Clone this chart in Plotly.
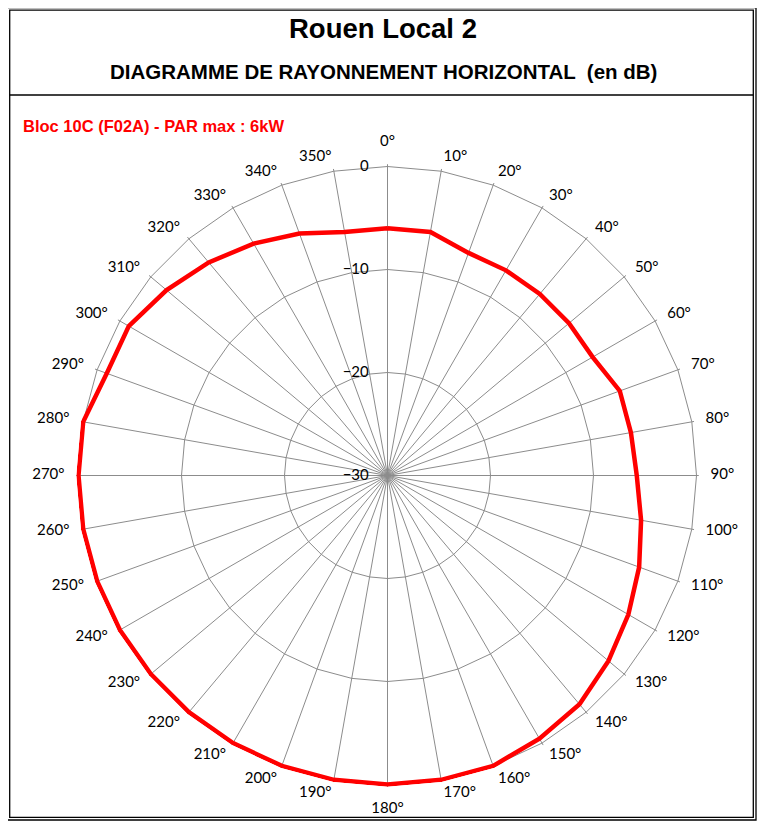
import plotly.graph_objects as go

# Horizontal radiation pattern, attenuation in dB at each azimuth
azimuths = list(range(0, 360, 10))
angles = [f"{a}°" for a in azimuths]
attenuation_db = [
    -6, -6, -7, -7, -7, -7, -7, -6, -6, -5.8,      # 0-90
    -5, -4, -3, -2, -1, -0.5, 0, 0, 0,            # 100-180
    0, 0, 0, 0, 0, 0, 0, 0, 0,                    # 190-270
    0, -1, -1, -2, -3, -4, -5, -6,                # 280-350
]
radial_ticks = [-30, -20, -10, 0]

title_text = "Rouen Local 2"
subtitle_text = "DIAGRAMME DE RAYONNEMENT HORIZONTAL &nbsp;(en dB)"
legend_text = "Bloc 10C (F02A) - PAR max : 6kW"

# the page body adds an 8px margin, so the figure is a bit smaller than the window
OFF = 8
W, H = 765 - OFF, 828 - OFF

def px(x):
    return (x - OFF) / W

def py(y):
    return 1 - (y - OFF) / H

R0 = 309  # pixel radius of the 0 dB ring
cx, cy = 387.5, 475.5
r_min = -30
r_max = 0.22      # a hair past 0 dB so the thick line is not clipped on the rim
r_lab_max = 3.5   # invisible outer subplot that carries the azimuth labels

def domain(rmax):
    R = R0 * (rmax - r_min) / (0 - r_min)
    return dict(x=[px(cx - R), px(cx + R)], y=[py(cy + R), py(cy - R)])

def db_at(pixels):
    return r_min + (0 - r_min) * pixels / R0

# azimuth labels: side anchored, vertically centred, like the spreadsheet
label_pos, label_r = [], []
for a in azimuths:
    if a == 0:
        label_pos.append("top center")
        label_r.append(db_at(326))
    elif a == 180:
        label_pos.append("bottom center")
        label_r.append(db_at(326))
    else:
        label_pos.append("middle right" if a < 180 else "middle left")
        label_r.append(db_at(323))

fig = go.Figure()
fig.add_trace(go.Scatterpolar(
    r=attenuation_db + attenuation_db[:1],
    theta=angles + angles[:1],
    mode="lines",
    line=dict(color="#ff0000", width=4.5),
    hoverinfo="skip",
))
fig.add_trace(go.Scatterpolar(
    r=label_r,
    theta=angles,
    mode="text",
    text=angles,
    textposition=label_pos,
    textfont=dict(family="Lato, Calibri, sans-serif", size=15, color="#000000"),
    hoverinfo="skip",
    subplot="polar2",
))

grid = "#8c8c8c"
tick_font = dict(family="Lato, Calibri, sans-serif", size=15, color="#000000")

fig.update_layout(
    width=W, height=H,
    margin=dict(l=0, r=0, t=0, b=0),
    paper_bgcolor="white",
    showlegend=False,
    polar=dict(
        domain=domain(r_max),
        bgcolor="white",
        gridshape="linear",
        angularaxis=dict(
            type="category",
            categoryarray=angles,
            direction="clockwise",
            rotation=90,
            showline=False,
            gridcolor=grid,
            gridwidth=1,
            showticklabels=False,
            ticks="",
        ),
        radialaxis=dict(
            range=[r_min, r_max],
            tickvals=radial_ticks,
            angle=90,
            side="counterclockwise",
            showline=False,
            gridcolor=grid,
            gridwidth=1,
            ticks="outside",
            ticklen=13,
            tickcolor="rgba(0,0,0,0)",
            tickangle=90,
            tickfont=tick_font,
        ),
    ),
    polar2=dict(
        domain=domain(r_lab_max),
        bgcolor="rgba(0,0,0,0)",
        angularaxis=dict(
            type="category",
            categoryarray=angles,
            direction="clockwise",
            rotation=90,
            showline=False,
            showgrid=False,
            showticklabels=False,
            ticks="",
        ),
        radialaxis=dict(
            range=[r_min, r_lab_max],
            visible=False,
            showgrid=False,
        ),
    ),
)

# double frame and title separator
shapes = []
for x0, y0, x1, y1 in [(7, 7.5, 756, 820), (9.7, 10.2, 753.3, 817.3)]:
    shapes.append(dict(type="rect", xref="paper", yref="paper",
                       x0=px(x0), y0=py(y0), x1=px(x1), y1=py(y1),
                       line=dict(color="black", width=1.3)))
shapes.append(dict(type="line", xref="paper", yref="paper",
                   x0=px(9.7), y0=py(95), x1=px(753.3), y1=py(95),
                   line=dict(color="black", width=1.3)))
fig.update_layout(shapes=shapes)

fig.add_annotation(x=px(383), y=py(28), xref="paper", yref="paper",
                   xanchor="center", yanchor="middle",
                   text=f"<b>{title_text}</b>", showarrow=False,
                   font=dict(family="Liberation Sans, Arial", size=27.5, color="black"))
fig.add_annotation(x=px(383), y=py(72), xref="paper", yref="paper",
                   xanchor="center", yanchor="middle",
                   text=f"<b>{subtitle_text}</b>", showarrow=False,
                   font=dict(family="Liberation Sans, Arial", size=20.5, color="black"))
fig.add_annotation(x=px(21), y=py(126), xref="paper", yref="paper",
                   xanchor="left", yanchor="middle",
                   text=f"<b>{legend_text}</b>", showarrow=False,
                   font=dict(family="Liberation Sans, Arial", size=16.5, color="#ff0000"))

fig.write_html("out.html")
